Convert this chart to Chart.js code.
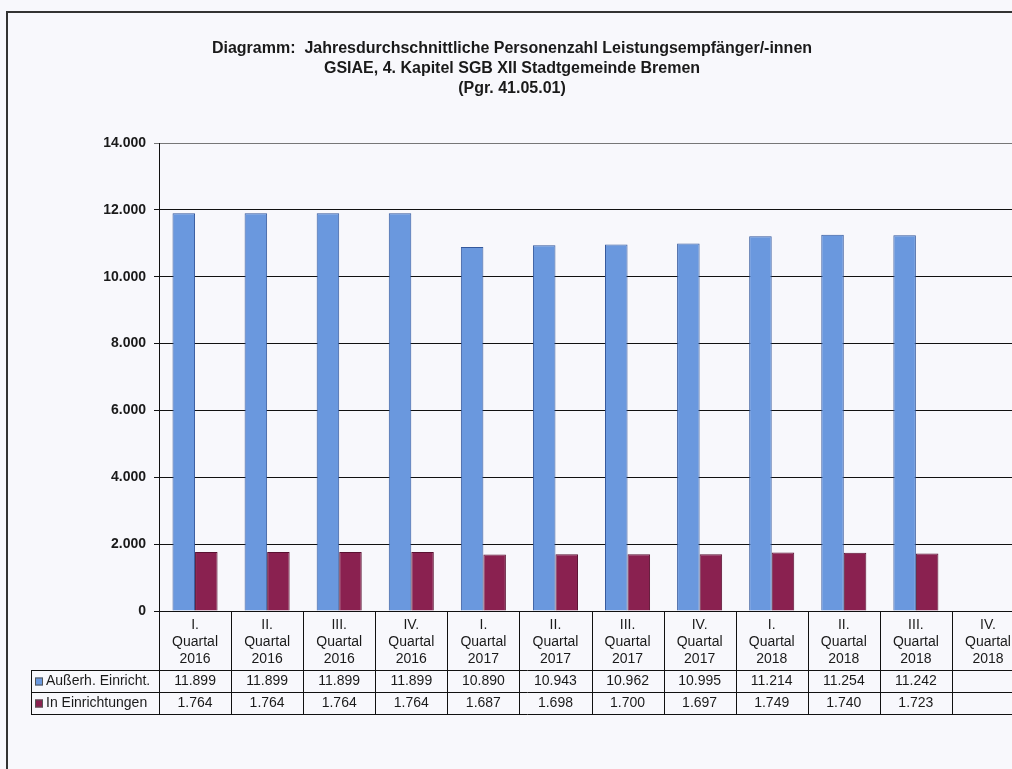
<!DOCTYPE html>
<html>
<head>
<meta charset="utf-8">
<script src="https://cdn.jsdelivr.net/npm/chart.js@4/dist/chart.umd.min.js"></script>
<style>
    html, body { margin: 0; padding: 0; background: #f8f8fc; overflow: hidden; }
    #wrap { position: relative; width: 1012px; height: 769px; overflow: hidden; }
    #frame { position: absolute; left: 6px; top: 11px; width: 1100px; height: 800px;
             border-top: 2px solid #333; border-left: 2px solid #333; }
    #holder { position: absolute; left: 0; top: 0; width: 1024px; height: 769px; }
</style>
</head>
<body>
<div id="wrap">
    <div id="frame"></div>
    <div id="holder"><canvas id="myChart" width="1024" height="769"></canvas></div>
</div>
<script>
// quarters (shown as three lines in the table header)
const quarterNames = ['I.', 'II.', 'III.', 'IV.', 'I.', 'II.', 'III.', 'IV.', 'I.', 'II.', 'III.', 'IV.'];
const quarterYears = ['2016', '2016', '2016', '2016', '2017', '2017', '2017', '2017', '2018', '2018', '2018', '2018'];

const ausserhalb = [11899, 11899, 11899, 11899, 10890, 10943, 10962, 10995, 11214, 11254, 11242, null];
const inEinrichtungen = [1764, 1764, 1764, 1764, 1687, 1698, 1700, 1697, 1749, 1740, 1723, null];

const yTicks = [0, 2000, 4000, 6000, 8000, 10000, 12000, 14000];

const titleLines = [
    'Diagramm:  Jahresdurchschnittliche Personenzahl Leistungsempfänger/-innen',
    'GSIAE, 4. Kapitel SGB XII Stadtgemeinde Bremen',
    '(Pgr. 41.05.01)'
];

const FONT = '"Liberation Sans", Arial, sans-serif';
const BLUE = '#6a98de';
const BLUE_EDGE = '#34589c';
const RED = '#8a2150';
const RED_EDGE = '#5a1131';

const labels = quarterNames.map((q, i) => q + ' Quartal ' + quarterYears[i]);

const fmt = v => v.toLocaleString('de-DE');

// draws the data table under the x axis
const tablePlugin = {
    id: 'dataTable',
    afterDraw(chart) {
        const ctx = chart.ctx;
        const x = chart.scales.x;
        const area = chart.chartArea;
        const colW = x.getPixelForValue(1) - x.getPixelForValue(0);
        const top = area.bottom;
        const hdrBottom = top + 59;
        const r1 = hdrBottom + 22;
        const r2 = r1 + 22;
        const labelLeft = 31;

        ctx.save();
        ctx.strokeStyle = '#111';
        ctx.lineWidth = 1;
        ctx.beginPath();
        [hdrBottom, r1, r2].forEach(y => {
            ctx.moveTo(labelLeft, y + 0.5);
            ctx.lineTo(chart.width, y + 0.5);
        });
        ctx.moveTo(labelLeft + 0.5, hdrBottom);
        ctx.lineTo(labelLeft + 0.5, r2);
        for (let i = 0; i <= labels.length; i++) {
            const bx = Math.round(x.getPixelForValue(i) - colW / 2) + 0.5;
            ctx.moveTo(bx, top);
            ctx.lineTo(bx, r2);
        }
        ctx.stroke();

        ctx.fillStyle = '#1a1a1a';
        ctx.textAlign = 'center';
        ctx.textBaseline = 'middle';
        ctx.font = '14px ' + FONT;
        labels.forEach((l, i) => {
            const cx = x.getPixelForValue(i);
            ctx.fillText(quarterNames[i], cx, top + 14);
            ctx.fillText('Quartal', cx, top + 31);
            ctx.fillText(quarterYears[i], cx, top + 48);
            if (ausserhalb[i] != null) ctx.fillText(fmt(ausserhalb[i]), cx, hdrBottom + 11.5);
            if (inEinrichtungen[i] != null) ctx.fillText(fmt(inEinrichtungen[i]), cx, r1 + 11.5);
        });

        // row labels with legend squares
        ctx.textAlign = 'left';
        chart.data.datasets.forEach((ds, k) => {
            const cy = k === 0 ? hdrBottom + 11.5 : r1 + 11.5;
            ctx.fillStyle = ds.backgroundColor;
            ctx.fillRect(35, cy - 4, 8, 8);
            ctx.strokeStyle = '#555';
            ctx.strokeRect(35.5, cy - 3.5, 7, 7);
            ctx.fillStyle = '#1a1a1a';
            ctx.fillText(ds.label, 46, cy);
        });
        ctx.restore();
    }
};

new Chart(document.getElementById('myChart'), {
    type: 'bar',
    data: {
        labels: labels,
        datasets: [
            {
                label: 'Außerh. Einricht.',
                data: ausserhalb,
                backgroundColor: BLUE,
                borderColor: BLUE_EDGE,
                borderWidth: 1,
            },
            {
                label: 'In Einrichtungen',
                data: inEinrichtungen,
                backgroundColor: RED,
                borderColor: RED_EDGE,
                borderWidth: 1,
            }
        ]
    },
    options: {
        responsive: false,
        animation: false,
        locale: 'de-DE',
        layout: { padding: { left: 0, right: 0, top: 0, bottom: 158 } },
        datasets: { bar: { categoryPercentage: 0.625, barPercentage: 1 } },
        plugins: {
            legend: { display: false },
            tooltip: { enabled: false },
            title: {
                display: true,
                text: titleLines,
                color: '#1a1a1a',
                font: { family: FONT, size: 16, weight: 'bold', lineHeight: 1.25 },
                padding: { top: 39, bottom: 44 }
            }
        },
        scales: {
            x: {
                ticks: { display: false },
                grid: { display: false, drawTicks: false },
                border: { color: '#111', width: 1 }
            },
            y: {
                min: 0,
                max: 14000,
                afterBuildTicks: s => { s.ticks = yTicks.map(v => ({ value: v })); },
                afterFit: s => { s.width = 159; },
                ticks: {
                    color: '#1a1a1a',
                    padding: 8,
                    font: { family: FONT, size: 14, weight: 'bold' }
                },
                grid: {
                    color: ctx => ctx.tick && ctx.tick.value === 14000 ? '#777' : '#111',
                    tickLength: 5
                },
                border: { color: '#111', width: 1 }
            }
        }
    },
    plugins: [tablePlugin]
});
</script>
</body>
</html>
